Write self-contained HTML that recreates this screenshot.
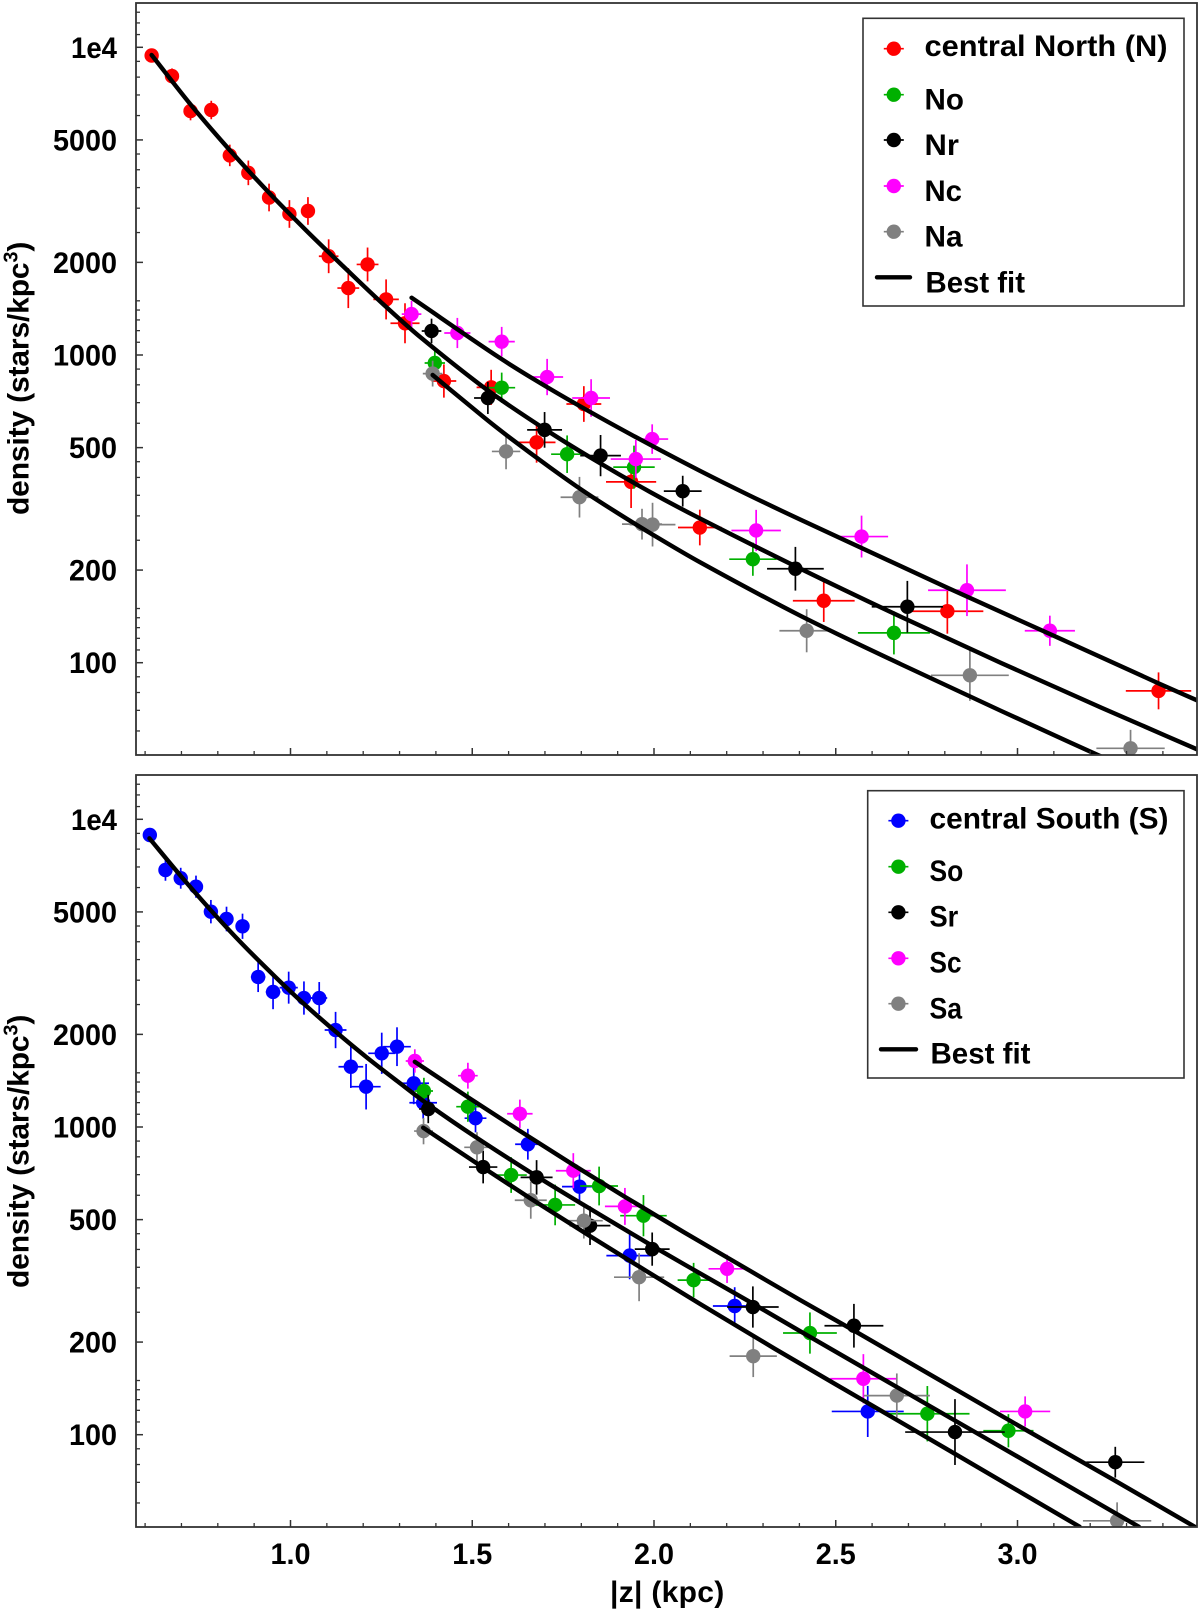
<!DOCTYPE html>
<html lang="en">
<head>
<meta charset="utf-8">
<title>Stellar density versus |z|</title>
<style>
html,body{margin:0;padding:0;background:#fff;}
svg{display:block;}
text{font-family:"Liberation Sans",sans-serif;font-weight:bold;fill:#000;}
</style>
</head>
<body>
<svg id="chart" width="1200" height="1613" viewBox="0 0 1200 1613" xmlns="http://www.w3.org/2000/svg"></svg>
<script>
// Axis ticks
const xMajorTicks = [1.0, 1.5, 2.0, 2.5, 3.0];
const xMajorLabels = ["1.0", "1.5", "2.0", "2.5", "3.0"];
const xMinorTicks = [0.6,0.7,0.8,0.9,1.1,1.2,1.3,1.4,1.6,1.7,1.8,1.9,2.1,2.2,2.3,2.4,2.6,2.7,2.8,2.9,3.1,3.2,3.3,3.4];
const yMajorTicks = [10000, 5000, 2000, 1000, 500, 200, 100];
const yMajorLabels = ["1e4", "5000", "2000", "1000", "500", "200", "100"];
const yMinorTicks = [13000,12000,11000,9000,8000,7000,6000,4500,4000,3500,3000,2500,1500,1400,1300,1200,1100,900,800,700,600,450,400,350,300,250,150,140,130,120,110,90,80,70,60];

// Central North
const nZ = [0.618,0.674,0.725,0.782,0.833,0.884,0.941,0.997,1.048,1.105,1.159,1.212,1.263,1.315,1.422,1.552,1.677,1.807,1.937,2.126,2.467,2.807,3.388];
const nD = [9404,8060,6204,6255,4453,3908,3250,2873,2938,2094,1650,1969,1516,1268,823,785,520,693,387,275,159,147,81];
const nZErr = [0.01,0.01,0.01,0.01,0.01,0.012,0.012,0.013,0.014,0.027,0.03,0.03,0.035,0.04,0.034,0.04,0.052,0.048,0.069,0.06,0.085,0.099,0.09];
const nDexErr = [0.02,0.025,0.03,0.03,0.035,0.04,0.045,0.045,0.045,0.055,0.065,0.055,0.065,0.065,0.054,0.057,0.066,0.058,0.085,0.058,0.069,0.073,0.06];
// No
const noZ = [1.397,1.581,1.761,1.945,2.272,2.660];
const noD = [942,783,476,432,217,125];
const noZErr = [0.028,0.037,0.044,0.057,0.065,0.099];
const noDexErr = [0.045,0.049,0.061,0.07,0.054,0.07];
// Nr
const nrZ = [1.388,1.543,1.699,1.853,2.079,2.389,2.697];
const nrD = [1197,725,571,471,361,202,152];
const nrZErr = [0.027,0.038,0.048,0.056,0.052,0.078,0.098];
const nrDexErr = [0.04,0.052,0.058,0.067,0.05,0.071,0.084];
// Nc
const ncZ = [1.333,1.459,1.581,1.706,1.827,1.995,1.950,2.281,2.571,2.861,3.089];
const ncD = [1358,1179,1105,848,725,533,459,269,257,172,127];
const ncZErr = [0.027,0.036,0.036,0.044,0.052,0.044,0.069,0.068,0.073,0.107,0.069];
const ncDexErr = [0.043,0.049,0.048,0.059,0.061,0.048,0.062,0.067,0.068,0.084,0.049];
// Na
const naZ = [1.391,1.593,1.795,1.967,1.996,2.420,2.869,3.311];
const naD = [870,486,345,282,281,127,91,52.7];
const naZErr = [0.027,0.039,0.052,0.055,0.063,0.075,0.107,0.094];
const naDexErr = [0.042,0.058,0.066,0.05,0.071,0.07,0.083,0.06];

// Central South
const sZ = [0.613,0.656,0.698,0.740,0.781,0.824,0.868,0.911,0.952,0.995,1.037,1.079,1.124,1.166,1.208,1.251,1.293,1.339,1.365,1.509,1.653,1.795,1.933,2.222,2.588];
const sD = [8892,6843,6433,6039,5010,4742,4491,3073,2747,2837,2625,2625,2066,1570,1352,1736,1824,1387,1199,1068,879,640,382,262,119];
const sZErr = [0.01,0.01,0.01,0.01,0.012,0.012,0.012,0.02,0.02,0.025,0.022,0.022,0.03,0.034,0.04,0.037,0.038,0.042,0.038,0.03,0.035,0.048,0.064,0.06,0.099];
const sDexErr = [0.023,0.035,0.034,0.036,0.038,0.04,0.041,0.049,0.056,0.052,0.054,0.052,0.059,0.069,0.074,0.067,0.063,0.068,0.052,0.046,0.05,0.049,0.077,0.061,0.083];
// So
const soZ = [1.367,1.488,1.607,1.728,1.849,1.971,2.109,2.429,2.752,2.975];
const soD = [1309,1164,698,558,643,515,318,214,117,103];
const soZErr = [0.025,0.032,0.043,0.055,0.052,0.064,0.044,0.074,0.116,0.069];
const soDexErr = [0.043,0.049,0.058,0.066,0.063,0.067,0.056,0.067,0.09,0.054];
// Sr
const srZ = [1.379,1.530,1.677,1.824,1.995,2.272,2.550,2.828,3.269];
const srD = [1144,741,686,478,401,260,226,102,81.4];
const srZErr = [0.025,0.039,0.044,0.056,0.048,0.071,0.081,0.137,0.08];
const srDexErr = [0.046,0.053,0.056,0.063,0.054,0.067,0.071,0.107,0.05];
// Sc
const scZ = [1.342,1.488,1.631,1.778,1.920,2.201,2.576,3.021];
const scD = [1639,1468,1104,721,552,346,152,119];
const scZErr = [0.025,0.027,0.035,0.048,0.055,0.051,0.091,0.069];
const scDexErr = [0.038,0.042,0.046,0.057,0.06,0.046,0.08,0.049];
// Sa
const saZ = [1.366,1.513,1.661,1.807,1.959,2.273,2.668,3.274];
const saD = [970,859,578,496,325,180,134,52.5];
const saZErr = [0.026,0.035,0.044,0.052,0.069,0.065,0.091,0.094];
const saDexErr = [0.043,0.049,0.06,0.058,0.078,0.068,0.072,0.06];

// Best-fit curves, north panel
const fitNUpperZ = [1.333,1.576,1.714,1.851,1.989,2.127,2.264,2.402,2.808,3.089,3.388,3.499];
const fitNUpperD = [1535,978,776,627,511,420,349,292,175,124,85.7,75];
const fitNMiddleZ = [0.618,0.726,0.832,0.938,1.043,1.147,1.254,1.359,1.543,1.714,1.853,1.989,2.127,2.403,2.679,2.955,3.231,3.502];
const fitNMiddleD = [9440,6501,4645,3396,2541,1932,1466,1138,767,560,444,359,294,202,141,99.8,71.4,51.8];
const fitNLowerZ = [1.391,1.530,1.595,1.714,1.805,1.897,1.989,2.127,2.403,2.679,2.955,3.231];
const fitNLowerD = [861,630,548,431,362,308,264,212,142,98.9,69.7,49.5];

// Best-fit curves, south panel
const fitSUpperZ = [1.342,1.488,1.631,1.778,1.920,2.081,2.264,2.402,2.550,3.021,3.269,3.489];
const fitSUpperD = [1629,1250,971,753,593,456,341,274,218,104,70.8,50.1];
const fitSMiddleZ = [0.612,0.698,0.785,0.868,0.959,1.037,1.124,1.212,1.296,1.379,1.512,1.677,1.851,1.995,2.116,2.264,2.402,2.753,3.05,3.334];
const fitSMiddleD = [8670,6546,5000,3926,3069,2512,2042,1675,1403,1183,923,692,519,411,340,270,217,125,78.5,50.2];
const fitSLowerZ = [1.365,1.530,1.661,1.824,1.959,2.127,2.333,2.587,2.826,3.171];
const fitSLowerD = [995,738,585,442,352,266,190,127,86.9,50.2];

const NS = "http://www.w3.org/2000/svg";
const svg = document.getElementById("chart");
const RED = "#ff0000", GREEN = "#00b000", BLACK = "#000000", MAGENTA = "#ff00ff", GRAY = "#808080", BLUE = "#0000ff";
const FRAME = "#333333";

function make(tag, attrs, parent) {
  const e = document.createElementNS(NS, tag);
  for (const k in attrs) e.setAttribute(k, attrs[k]);
  parent.appendChild(e);
  return e;
}

// Horizontal axis is shared; vertical axis is log10 with an offset per panel
function xScale(z) { return 290.5 + 363.5 * (z - 1); }
function yScale(d, y1e4) { return y1e4 + (4 - Math.log10(d)) * 307.7; }

function smoothPath(px) {
  let s = "M" + px[0][0].toFixed(2) + " " + px[0][1].toFixed(2);
  for (let i = 0; i < px.length - 1; i++) {
    const p0 = px[Math.max(0, i - 1)], p1 = px[i], p2 = px[i + 1], p3 = px[Math.min(px.length - 1, i + 2)];
    const d = (p2[0] - p1[0]) / 3;
    const m1 = (p2[1] - p0[1]) / (p2[0] - p0[0]), m2 = (p3[1] - p1[1]) / (p3[0] - p1[0]);
    s += "C" + (p1[0] + d).toFixed(2) + " " + (p1[1] + d * m1).toFixed(2) + " " + (p2[0] - d).toFixed(2) + " " + (p2[1] - d * m2).toFixed(2) + " " + p2[0].toFixed(2) + " " + p2[1].toFixed(2);
  }
  return s;
}

function drawSeries(parent, name, color, zs, ds, zErr, dexErr, y1e4) {
  const group = make("g", {}, parent);
  
  
  zs.forEach(function (z, i) {
    const cx = xScale(z), cy = yScale(ds[i], y1e4);
    const pt = make("g", {}, group);
    
    
    make("line", {x1: xScale(z - zErr[i]), x2: xScale(z + zErr[i]), y1: cy, y2: cy, stroke: color, "stroke-width": 1.7}, pt);
    make("line", {x1: cx, x2: cx, y1: yScale(ds[i] * Math.pow(10, dexErr[i]), y1e4), y2: yScale(ds[i] * Math.pow(10, -dexErr[i]), y1e4), stroke: color, "stroke-width": 1.7}, pt);
    make("circle", {cx: cx, cy: cy, r: 7.2, fill: color}, pt);
  });
}

function drawFit(parent, name, zs, ds, y1e4) {
  const px = zs.map(function (z, i) { return [xScale(z), yScale(ds[i], y1e4)]; });
  const path = make("path", {d: smoothPath(px), fill: "none", stroke: "#000", "stroke-width": 4.4, "stroke-linecap": "round", "stroke-linejoin": "round"}, parent);
  
  
}

function labelWidth(s) { return s === "1e4" ? 46 : s.length * 16; }

function drawAxes(parent, prefix, left, right, top, bottom, y1e4, showXLabels) {
  const axes = make("g", {}, parent);
  
  
  const frame = make("rect", {x: left, y: top, width: right - left, height: bottom - top, fill: "none", stroke: FRAME, "stroke-width": 1.8}, axes);
  
  
  xMinorTicks.forEach(function (v) {
    make("line", {x1: xScale(v), x2: xScale(v), y1: bottom, y2: bottom - 4, stroke: FRAME, "stroke-width": 1.3}, axes);
  });
  xMajorTicks.forEach(function (v, i) {
    make("line", {x1: xScale(v), x2: xScale(v), y1: bottom, y2: bottom - 7, stroke: FRAME, "stroke-width": 1.5}, axes);
    if (showXLabels) {
      const t = make("text", {x: xScale(v), y: 1564, "font-size": 30, "text-anchor": "middle", textLength: 40, lengthAdjust: "spacingAndGlyphs"}, axes);
      t.textContent = xMajorLabels[i];
      
      
    }
  });
  yMinorTicks.forEach(function (v) {
    make("line", {x1: left, x2: left + 4, y1: yScale(v, y1e4), y2: yScale(v, y1e4), stroke: FRAME, "stroke-width": 1.3}, axes);
  });
  yMajorTicks.forEach(function (v, i) {
    const y = yScale(v, y1e4);
    make("line", {x1: left, x2: left + 7, y1: y, y2: y, stroke: FRAME, "stroke-width": 1.5}, axes);
    const t = make("text", {x: 117, y: y + 10.5, "font-size": 30, "text-anchor": "end", textLength: labelWidth(yMajorLabels[i]), lengthAdjust: "spacingAndGlyphs"}, axes);
    t.textContent = yMajorLabels[i];
    
    
  });
}

function drawYTitle(parent, name, yStart) {
  const t = make("text", {x: 28.5, y: yStart, "font-size": 30, "letter-spacing": -0.15, transform: "rotate(-90 28.5 " + yStart + ")"}, parent);
  
  
  t.appendChild(document.createTextNode("density (stars/kpc"));
  const sup = make("tspan", {dy: -11, "font-size": 20}, t);
  sup.textContent = "3";
  const close = make("tspan", {dy: 11}, t);
  close.textContent = ")";
}

function drawLegend(parent, name, box, markerX, lineX1, lineX2, textX, rows, fit) {
  const g = make("g", {}, parent);
  
  
  make("rect", {x: box[0], y: box[1], width: box[2] - box[0], height: box[3] - box[1], fill: "#fff", stroke: FRAME, "stroke-width": 1.6}, g);
  rows.forEach(function (r) {
    const entry = make("g", {}, g);
    
    
    make("line", {x1: markerX - 10, x2: markerX + 10, y1: r.my, y2: r.my, stroke: r.color, "stroke-width": 1.7}, entry);
    make("circle", {cx: markerX, cy: r.my, r: 7.2, fill: r.color}, entry);
    const t = make("text", {x: textX, y: r.ty, "font-size": 30, textLength: r.w, lengthAdjust: "spacingAndGlyphs"}, entry);
    t.textContent = r.label;
  });
  const entry = make("g", {}, g);
  
  
  make("line", {x1: lineX1, x2: lineX2, y1: fit.my, y2: fit.my, stroke: "#000", "stroke-width": 4.4, "stroke-linecap": "round"}, entry);
  const t = make("text", {x: textX + 1, y: fit.ty, "font-size": 30, textLength: fit.w, lengthAdjust: "spacingAndGlyphs"}, entry);
  t.textContent = "Best fit";
}

const defs = make("defs", {}, svg);
const clipN = make("clipPath", {id: "clip-north"}, defs);
make("rect", {x: 136, y: 3, width: 1061, height: 752}, clipN);
const clipS = make("clipPath", {id: "clip-south"}, defs);
make("rect", {x: 136, y: 775, width: 1061, height: 752}, clipS);

const LEFT = 136, RIGHT = 1197;

// North panel
const Y_N = 47.3;
const panelN = make("g", {}, svg);


const plotN = make("g", {"clip-path": "url(#clip-north)"}, panelN);


drawSeries(plotN, "central-north", RED, nZ, nD, nZErr, nDexErr, Y_N);
drawSeries(plotN, "no", GREEN, noZ, noD, noZErr, noDexErr, Y_N);
drawSeries(plotN, "nr", BLACK, nrZ, nrD, nrZErr, nrDexErr, Y_N);
drawSeries(plotN, "nc", MAGENTA, ncZ, ncD, ncZErr, ncDexErr, Y_N);
drawSeries(plotN, "na", GRAY, naZ, naD, naZErr, naDexErr, Y_N);
drawFit(plotN, "north-best-fit-upper", fitNUpperZ, fitNUpperD, Y_N);
drawFit(plotN, "north-best-fit-middle", fitNMiddleZ, fitNMiddleD, Y_N);
drawFit(plotN, "north-best-fit-lower", fitNLowerZ, fitNLowerD, Y_N);
drawAxes(panelN, "north", LEFT, RIGHT, 3, 755, Y_N, false);
drawYTitle(panelN, "north-y-axis-title", 515);
drawLegend(panelN, "north-legend", [863, 18.3, 1184, 306], 893.8, 877, 910, 924.5,
  [{label: "central North (N)", color: RED, my: 48.7, ty: 56, w: 243},
   {label: "No", color: GREEN, my: 94.7, ty: 109.3, w: 39.4},
   {label: "Nr", color: BLACK, my: 140, ty: 155, w: 34.4},
   {label: "Nc", color: MAGENTA, my: 186, ty: 201, w: 37.5},
   {label: "Na", color: GRAY, my: 231.7, ty: 246.7, w: 38}],
  {my: 277.3, ty: 292.3, w: 99.5});

// South panel
const Y_S = 819.3;
const panelS = make("g", {}, svg);


const plotS = make("g", {"clip-path": "url(#clip-south)"}, panelS);


drawSeries(plotS, "central-south", BLUE, sZ, sD, sZErr, sDexErr, Y_S);
drawSeries(plotS, "so", GREEN, soZ, soD, soZErr, soDexErr, Y_S);
drawSeries(plotS, "sr", BLACK, srZ, srD, srZErr, srDexErr, Y_S);
drawSeries(plotS, "sc", MAGENTA, scZ, scD, scZErr, scDexErr, Y_S);
drawSeries(plotS, "sa", GRAY, saZ, saD, saZErr, saDexErr, Y_S);
drawFit(plotS, "south-best-fit-upper", fitSUpperZ, fitSUpperD, Y_S);
drawFit(plotS, "south-best-fit-middle", fitSMiddleZ, fitSMiddleD, Y_S);
drawFit(plotS, "south-best-fit-lower", fitSLowerZ, fitSLowerD, Y_S);
drawAxes(panelS, "south", LEFT, RIGHT, 775, 1527, Y_S, true);
drawYTitle(panelS, "south-y-axis-title", 1288);
drawLegend(panelS, "south-legend", [867.7, 790.7, 1184, 1078], 898.4, 881, 916, 929.5,
  [{label: "central South (S)", color: BLUE, my: 820.7, ty: 828.3, w: 239},
   {label: "So", color: GREEN, my: 866.7, ty: 881, w: 33.8},
   {label: "Sr", color: BLACK, my: 912.3, ty: 926.7, w: 28.8},
   {label: "Sc", color: MAGENTA, my: 958.3, ty: 972.3, w: 32},
   {label: "Sa", color: GRAY, my: 1003.7, ty: 1018.3, w: 32.6}],
  {my: 1049.3, ty: 1063.7, w: 100});

const xTitle = make("text", {x: 610, y: 1602, "font-size": 30, "letter-spacing": 0.3}, svg);
xTitle.textContent = "|z| (kpc)";


</script>
</body>
</html>
